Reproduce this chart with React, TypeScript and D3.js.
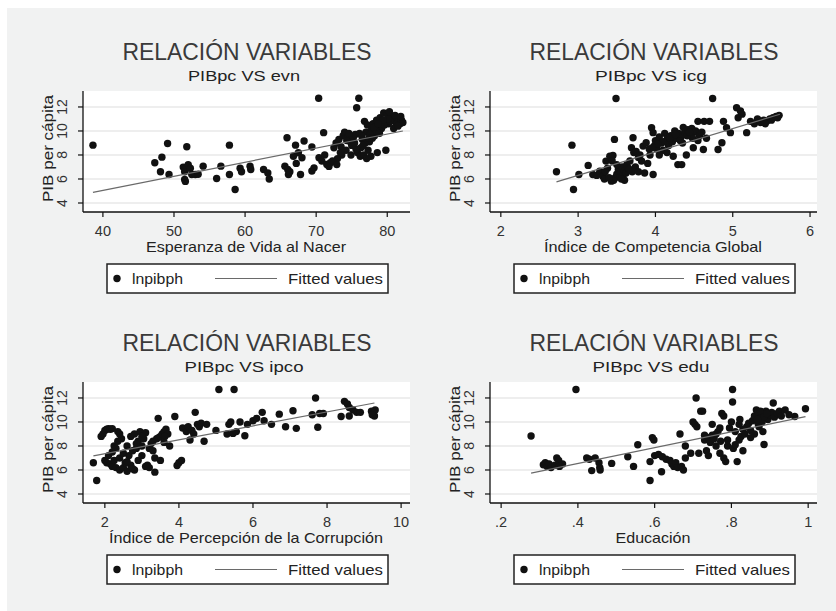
import React from "react";
import * as d3 from "d3";

// ---------- data ----------
const evnPts: [number, number][] = [
  [38.6, 8.82], [47.3, 7.35], [48.3, 7.82], [48.1, 6.6], [49.1, 8.96], [49.3, 6.37], [51.3, 6.99], [51.6, 6.8],
  [51.5, 6.6], [51.5, 5.96], [51.6, 5.8], [51.8, 8.69], [52.0, 7.2], [52.3, 6.9], [52.5, 6.37], [53.0, 6.37],
  [53.4, 6.4], [54.1, 7.07], [56.0, 6.04], [56.6, 7.07], [57.8, 8.82], [57.8, 6.37], [58.6, 5.12], [59.3, 6.9],
  [59.5, 6.6], [60.7, 7.07], [60.8, 6.79], [62.6, 6.79], [63.2, 6.5], [63.4, 6.0], [65.9, 9.44], [65.6, 7.07],
  [66.0, 6.79], [66.1, 6.37], [66.3, 6.6], [67.1, 8.82], [67.8, 6.37], [66.8, 7.9], [67.5, 8.18], [68.0, 7.77],
  [68.3, 9.16], [67.2, 7.3], [69.4, 8.66], [69.4, 6.66], [69.7, 6.93], [70.4, 7.77], [70.35, 12.72], [71.05, 9.86],
  [70.8, 7.49], [71.5, 7.21], [72.0, 7.35], [71.2, 8.0], [71.8, 7.05],
  [72.5, 8.6], [72.8, 9.0], [73.2, 9.3], [73.5, 8.7], [73.8, 9.6], [74.0, 9.9], [74.2, 8.4], [74.5, 9.5],
  [74.8, 9.1], [75.0, 8.8], [75.2, 9.4], [75.5, 9.7], [75.7, 11.94], [76.0, 12.72], [75.8, 8.2], [76.2, 7.9],
  [76.3, 8.6], [76.5, 9.3], [76.8, 10.8], [77.0, 9.9], [77.2, 10.5], [77.3, 8.4], [77.5, 9.1], [77.7, 7.9],
  [77.8, 10.1], [78.0, 10.6], [78.2, 9.6], [78.5, 10.9], [78.6, 8.2], [78.8, 10.4], [79.0, 11.1], [79.2, 10.2],
  [79.5, 11.5], [79.8, 8.4], [79.8, 10.8], [80.0, 11.4], [80.2, 10.6], [80.5, 11.2], [80.7, 10.9], [81.0, 11.0],
  [81.2, 10.7], [81.4, 11.1], [81.6, 10.8], [81.8, 10.6], [82.0, 10.9], [82.2, 10.7], [80.3, 11.6], [79.6, 10.5],
  [78.4, 10.0], [77.9, 9.4], [76.9, 9.0], [76.1, 9.8], [74.6, 9.8], [73.6, 8.0], [73.0, 7.7], [74.9, 8.0],
  [75.6, 8.5], [76.7, 8.0], [77.1, 7.7], [78.9, 9.8], [80.9, 10.2], [81.5, 10.4], [72.3, 7.5], [72.9, 7.2], [73.4, 8.2],
  [74.3, 9.2], [75.4, 9.0], [76.4, 9.6], [77.6, 9.7], [78.1, 10.3], [79.1, 10.6], [80.4, 10.8], [81.1, 11.3],
  [81.9, 11.2], [80.1, 11.0], [79.4, 10.9], [78.7, 10.6], [77.4, 9.4], [76.6, 8.8],
];

const icgPts: [number, number][] = [
  [2.72, 6.6], [2.92, 8.82], [2.94, 5.12], [3.01, 6.37], [3.13, 7.13], [3.19, 6.37], [3.24, 6.3], [3.28, 6.65],
  [3.32, 6.23], [3.34, 6.0], [3.36, 7.49], [3.38, 6.9], [3.41, 7.9], [3.45, 7.96], [3.47, 9.3], [3.49, 12.7],
  [3.43, 5.82], [3.46, 5.9], [3.48, 6.1], [3.5, 6.4], [3.52, 6.8], [3.54, 6.2], [3.55, 6.6], [3.57, 7.0],
  [3.58, 6.3], [3.6, 6.7], [3.62, 6.5], [3.63, 7.2], [3.65, 6.9], [3.67, 7.5], [3.69, 8.6], [3.71, 9.44],
  [3.72, 8.2], [3.75, 8.3], [3.78, 7.8], [3.8, 8.0], [3.82, 7.5], [3.84, 8.74], [3.86, 6.5], [3.88, 9.02],
  [3.9, 7.3], [3.92, 8.5], [3.95, 10.27], [3.97, 9.86], [3.97, 6.37], [3.99, 8.8], [4.0, 9.2], [4.02, 8.5],
  [4.05, 9.5], [4.08, 9.0], [4.1, 8.4], [4.12, 9.8], [4.15, 9.3], [4.17, 8.8], [4.2, 9.6], [4.22, 9.1],
  [4.23, 7.9], [4.25, 10.0], [4.27, 9.4], [4.29, 7.2], [4.3, 9.8], [4.33, 9.5], [4.34, 7.2], [4.36, 10.3],
  [4.38, 9.9], [4.4, 8.0], [4.42, 10.1], [4.45, 9.7], [4.47, 10.2], [4.49, 8.6], [4.5, 9.9], [4.52, 10.0],
  [4.55, 10.8], [4.57, 9.6], [4.6, 9.9], [4.62, 8.46], [4.63, 10.8], [4.66, 9.4], [4.7, 10.8], [4.74, 12.7],
  [4.81, 8.46], [4.86, 9.02], [4.88, 10.8], [4.92, 10.27], [4.97, 9.86], [5.05, 11.94], [5.1, 11.67], [5.07, 11.1],
  [5.12, 11.4], [5.18, 9.86], [5.23, 10.8], [5.28, 10.6], [5.32, 11.0], [5.36, 10.7], [5.4, 10.9], [5.44, 10.8],
  [5.48, 11.0], [5.52, 11.1], [5.56, 11.2], [5.6, 11.3], [5.58, 11.1], [5.5, 10.9], [5.42, 10.6], [3.35, 6.6],
  [3.4, 6.1], [3.6, 5.9], [3.56, 6.0], [3.7, 6.6], [3.74, 7.0], [3.66, 6.8], [3.78, 6.6], [3.5, 7.2],
  [3.44, 7.5], [3.93, 8.0], [4.05, 8.0], [4.15, 8.2], [4.35, 9.0], [4.48, 9.4], [4.55, 9.2],
  [4.1, 9.1], [4.19, 9.4], [4.26, 9.7], [4.32, 9.2], [4.41, 9.6], [4.44, 9.9], [4.03, 8.9], [3.96, 8.6],
];

const ipcoPts: [number, number][] = [
  [1.69, 6.6], [1.78, 5.12], [1.9, 8.8], [1.95, 9.0], [2.0, 9.3], [2.05, 9.4], [2.1, 9.45], [2.15, 9.4],
  [2.0, 6.8], [2.05, 6.6], [2.1, 7.2], [2.15, 6.5], [2.2, 6.3], [2.2, 7.5], [2.25, 8.0], [2.25, 6.8],
  [2.3, 7.8], [2.3, 6.2], [2.35, 9.2], [2.35, 8.4], [2.4, 7.0], [2.4, 6.0], [2.45, 8.6], [2.5, 7.4],
  [2.5, 6.2], [2.55, 6.6], [2.6, 8.0], [2.6, 5.9], [2.65, 7.2], [2.7, 6.4], [2.7, 8.8], [2.75, 7.6],
  [2.8, 6.0], [2.8, 9.0], [2.85, 7.8], [2.9, 6.8], [2.9, 8.4], [2.95, 9.2], [3.0, 7.2], [3.0, 8.0],
  [3.05, 8.6], [3.1, 9.1], [3.1, 6.3], [3.15, 6.4], [3.2, 7.8], [3.25, 8.2], [3.3, 8.4], [3.35, 7.0],
  [3.35, 5.82], [3.4, 8.6], [3.45, 8.7], [3.44, 10.3], [3.5, 8.8], [3.5, 6.8], [3.55, 9.0], [3.6, 9.2],
  [3.6, 8.3], [3.65, 9.4], [3.7, 9.0], [3.75, 8.0], [3.89, 10.45], [3.95, 6.38], [4.0, 6.6], [4.07, 6.8],
  [4.1, 9.5], [4.2, 9.2], [4.25, 9.6], [4.3, 8.5], [4.35, 9.3], [4.4, 9.0], [4.44, 10.8], [4.5, 9.8],
  [4.55, 9.6], [4.6, 9.9], [4.68, 8.4], [4.75, 9.8], [5.0, 9.3], [5.08, 12.7], [5.3, 9.0], [5.35, 9.8],
  [5.4, 10.0], [5.46, 9.05], [5.49, 12.7], [5.55, 9.2], [5.65, 10.0], [5.78, 8.85], [5.85, 9.8], [6.0, 10.1],
  [6.1, 10.3], [6.25, 10.8], [6.3, 10.1], [6.5, 9.8], [6.71, 10.65], [6.88, 9.6], [7.08, 10.93], [7.17, 9.47],
  [7.6, 10.6], [7.69, 12.0], [7.75, 9.56], [7.8, 10.7], [7.9, 10.7], [8.38, 10.45], [8.47, 11.72], [8.55, 11.5],
  [8.6, 11.2], [8.7, 11.0], [8.8, 10.8], [8.9, 10.8], [9.2, 10.9], [9.25, 10.7], [9.28, 10.5], [9.3, 11.0],
  [9.22, 10.6], [8.6, 10.5], [3.0, 8.8], [2.4, 9.0], [2.2, 9.45], [2.6, 6.7], [2.75, 6.1], [3.2, 6.2],
  [3.62, 8.8], [2.85, 8.2], [3.3, 7.6],
];

const eduPts: [number, number][] = [
  [0.278, 8.83], [0.31, 6.44], [0.315, 6.6], [0.32, 6.3], [0.325, 6.5], [0.33, 6.2], [0.34, 6.4], [0.345, 7.0],
  [0.35, 6.8], [0.352, 6.3], [0.36, 6.5], [0.395, 12.7], [0.423, 7.0], [0.43, 6.9], [0.436, 5.95], [0.445, 7.0],
  [0.455, 6.6], [0.457, 6.2], [0.458, 6.0], [0.488, 6.55], [0.53, 7.1], [0.545, 6.3], [0.556, 8.1], [0.588, 6.7],
  [0.588, 5.12], [0.594, 8.7], [0.598, 8.5], [0.6, 7.2], [0.61, 7.3], [0.618, 5.85], [0.62, 7.1], [0.63, 6.9],
  [0.64, 6.8], [0.645, 6.5], [0.65, 6.3], [0.655, 6.6], [0.66, 6.2], [0.666, 9.0], [0.67, 6.3], [0.675, 6.0],
  [0.68, 8.0], [0.68, 7.0], [0.694, 7.4], [0.7, 10.0], [0.705, 9.8], [0.708, 12.0], [0.71, 9.6], [0.715, 7.4],
  [0.72, 10.9], [0.725, 10.9], [0.73, 8.5], [0.735, 7.6], [0.74, 8.7], [0.745, 8.3], [0.75, 8.9], [0.755, 8.6],
  [0.76, 9.0], [0.765, 9.2], [0.77, 7.4], [0.772, 8.4], [0.775, 10.7], [0.78, 10.5], [0.78, 7.0], [0.785, 6.7],
  [0.79, 8.0], [0.795, 9.5], [0.8, 10.0], [0.803, 12.7], [0.803, 11.66], [0.805, 7.8], [0.81, 9.2], [0.81, 8.1],
  [0.815, 6.7], [0.82, 9.8], [0.822, 10.2], [0.825, 8.8], [0.83, 7.6], [0.835, 9.0], [0.84, 9.6], [0.845, 9.9],
  [0.85, 9.3], [0.855, 10.1], [0.86, 10.5], [0.86, 9.0], [0.865, 11.0], [0.87, 10.8], [0.872, 9.6], [0.875, 10.3],
  [0.88, 10.7], [0.882, 9.2], [0.885, 8.12], [0.888, 10.5], [0.89, 10.9], [0.895, 10.2], [0.9, 10.6], [0.905, 10.8],
  [0.909, 11.58], [0.912, 10.4], [0.92, 10.7], [0.925, 10.9], [0.93, 10.5], [0.94, 11.0], [0.95, 10.6], [0.965, 10.45],
  [0.993, 11.1], [0.76, 8.0], [0.79, 8.5], [0.77, 9.5], [0.83, 9.4], [0.75, 9.8], [0.82, 8.5], [0.85, 8.7],
  [0.87, 9.8], [0.88, 10.0], [0.73, 8.9], [0.74, 7.2], [0.876, 10.9], [0.884, 10.4], [0.868, 10.2], [0.892, 10.7],
];

// fitted values (endpoints of the OLS line)
const evnFit: [number, number][] = [[38.6, 4.89], [82.2, 10.0]];
const icgFit: [number, number][] = [[2.72, 5.76], [5.61, 11.39]];
const ipcoFit: [number, number][] = [[1.69, 7.17], [9.28, 11.58]];
const eduFit: [number, number][] = [[0.278, 5.74], [0.993, 10.45]];

const yTicks = [4, 6, 8, 10, 12];
const evnTicks = [40, 50, 60, 70, 80];
const icgTicks = [2, 3, 4, 5, 6];
const ipcoTicks = [2, 4, 6, 8, 10];
const eduTicks = [0.2, 0.4, 0.6, 0.8, 1];
const eduTickLabels = [".2", ".4", ".6", ".8", "1"];

const mainTitle = "RELACIÓN VARIABLES";
const subtitles = ["PIBpc VS evn", "PIBpc VS icg", "PIBpc VS ipco", "PIBpc VS edu"];
const xTitles = [
  "Esperanza de Vida al Nacer",
  "Índice de Competencia Global",
  "Índice de Percepción de la Corrupción",
  "Educación",
];
const yTitle = "PIB per cápita";
const legendLabels = ["lnpibph", "Fitted values"];

// ---------- drawing ----------
const FONT = "'Liberation Sans', Arial, sans-serif";

type PanelProps = {
  left: number;
  top: number;
  pts: [number, number][];
  fit: [number, number][];
  xDomain: [number, number];
  xTicks: number[];
  xLabels: string[];
  subtitle: string;
  subLen: number;
  xTitle: string;
  xTitleLen: number;
};

function Panel(p: PanelProps) {
  const W = 327;
  const H = 121;
  const x = d3.scaleLinear().domain(p.xDomain).range([p.left, p.left + W]);
  const y = d3.scaleLinear().domain([3.25, 13.33]).range([p.top + H, p.top]);
  const cx = p.left + 164;
  const line = d3
    .line<[number, number]>()
    .x((d) => x(d[0]))
    .y((d) => y(d[1]));
  const lgL = p.left + 24;
  const lgT = p.top + 173;
  const lgMid = lgT + 14.5;
  return (
    <g fontFamily={FONT}>
      <text x={cx} y={p.top - 31} textAnchor="middle" fontSize={23} fill="#3a3a3a"
        textLength={249} lengthAdjust="spacingAndGlyphs">{mainTitle}</text>
      <text x={cx - 3} y={p.top - 10} textAnchor="middle" fontSize={14} fill="#222"
        textLength={p.subLen} lengthAdjust="spacingAndGlyphs">{p.subtitle}</text>

      <rect x={p.left} y={p.top} width={W} height={H} fill="#ffffff" />
      {yTicks.map((t) => (
        <line key={"g" + t} x1={p.left} x2={p.left + W} y1={y(t)} y2={y(t)} stroke="#e8e8e8" strokeWidth={1.5} />
      ))}

      {p.pts.map((d, i) => (
        <circle key={i} cx={x(d[0])} cy={y(d[1])} r={3.7} fill="#111" />
      ))}
      <path d={line(p.fit) || ""} fill="none" stroke="#6a6a6a" strokeWidth={1.2} />

      <line x1={p.left} x2={p.left} y1={p.top} y2={p.top + H} stroke="#111" strokeWidth={1.3} />
      <line x1={p.left} x2={p.left + W} y1={p.top + H} y2={p.top + H} stroke="#111" strokeWidth={1.3} />

      {yTicks.map((t) => (
        <g key={"yt" + t}>
          <line x1={p.left - 5} x2={p.left} y1={y(t)} y2={y(t)} stroke="#111" strokeWidth={1.2} />
          <text transform={`translate(${p.left - 16},${y(t)}) rotate(-90)`} textAnchor="middle"
            fontSize={14} fill="#333">{t}</text>
        </g>
      ))}
      <text transform={`translate(${p.left - 30},${p.top + 57.5}) rotate(-90)`} textAnchor="middle"
        fontSize={15} fill="#222" textLength={107} lengthAdjust="spacingAndGlyphs">{yTitle}</text>

      {p.xTicks.map((t, i) => (
        <g key={"xt" + t}>
          <line x1={x(t)} x2={x(t)} y1={p.top + H} y2={p.top + H + 5} stroke="#111" strokeWidth={1.2} />
          <text x={x(t)} y={p.top + 145} textAnchor="middle" fontSize={14.5} fill="#333">{p.xLabels[i]}</text>
        </g>
      ))}
      <text x={cx - 1} y={p.top + 160.5} textAnchor="middle" fontSize={15} fill="#222"
        textLength={p.xTitleLen} lengthAdjust="spacingAndGlyphs">{p.xTitle}</text>

      <rect x={lgL} y={lgT} width={281} height={29} fill="#fff" stroke="#222" strokeWidth={1.5} />
      <circle cx={lgL + 10} cy={lgMid} r={3.7} fill="#111" />
      <text x={lgL + 25} y={lgMid + 5} fontSize={15} fill="#222" textLength={51}
        lengthAdjust="spacingAndGlyphs">{legendLabels[0]}</text>
      <line x1={lgL + 108} x2={lgL + 170} y1={lgMid} y2={lgMid} stroke="#6a6a6a" strokeWidth={1.2} />
      <text x={lgL + 181} y={lgMid + 5} fontSize={15} fill="#222" textLength={95}
        lengthAdjust="spacingAndGlyphs">{legendLabels[1]}</text>
    </g>
  );
}

export default function App() {
  return (
    <svg width={836} height={611} style={{ position: "absolute", left: 0, top: 0 }}>
      <rect x={0} y={0} width={836} height={611} fill="#ffffff" />
      <rect x={7} y={8} width={829} height={603} fill="#f1f2f2" />
      <Panel left={83} top={91} pts={evnPts} fit={evnFit} xDomain={[37.2, 83.2]} xTicks={evnTicks}
        xLabels={evnTicks.map(String)} subtitle={subtitles[0]} subLen={112} xTitle={xTitles[0]} xTitleLen={200} />
      <Panel left={490} top={91} pts={icgPts} fit={icgFit} xDomain={[1.86, 6.09]} xTicks={icgTicks}
        xLabels={icgTicks.map(String)} subtitle={subtitles[1]} subLen={112} xTitle={xTitles[1]} xTitleLen={218} />
      <Panel left={83} top={382} pts={ipcoPts} fit={ipcoFit} xDomain={[1.41, 10.24]} xTicks={ipcoTicks}
        xLabels={ipcoTicks.map(String)} subtitle={subtitles[2]} subLen={119} xTitle={xTitles[2]} xTitleLen={274} />
      <Panel left={490} top={382} pts={eduPts} fit={eduFit} xDomain={[0.171, 1.023]} xTicks={eduTicks}
        xLabels={eduTickLabels} subtitle={subtitles[3]} subLen={117} xTitle={xTitles[3]} xTitleLen={75} />
    </svg>
  );
}
